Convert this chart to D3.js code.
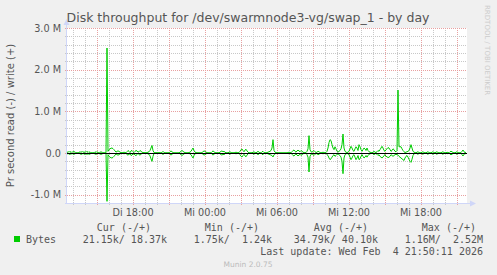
<!DOCTYPE html>
<html>
<head>
<meta charset="utf-8">
<script src="https://cdn.jsdelivr.net/npm/d3@7"></script>
<style>
body { margin: 0; background: #f0f0f0; }
text { font-family: "DejaVu Sans", sans-serif; }
.mono { font-family: "DejaVu Sans Mono", monospace; white-space: pre; }
</style>
</head>
<body>
<div id="chart"></div>
<script>
// 5 minute samples, values in k (bytes/s), from Tue 12:30 to Wed 21:50
var write = [
  30,10,40,15,35,10,40,20,30,3,2,3,2,35,10,40,15,30,10,40,
  15,35,10,30,3,2,2,3,30,10,35,2,3,30,10,30,3,2,4,5,
  2520,40,80,100,115,120,105,80,50,20,40,50,40,20,10,5,10,20,10,5,
  30,60,40,10,50,60,30,10,40,60,50,20,30,60,40,20,10,10,5,5,
  10,20,30,60,120,180,60,10,5,10,5,5,10,5,3,10,40,10,3,5,
  3,5,3,30,50,30,10,3,5,3,2,4,3,20,40,60,40,20,10,5,
  3,5,10,20,40,80,120,60,20,10,5,3,5,3,4,10,30,50,40,20,
  10,3,5,3,4,30,50,30,10,5,3,5,3,20,40,50,30,40,20,5,
  3,5,20,30,10,3,5,3,10,20,10,5,10,40,80,96,60,30,70,90,
  50,20,5,3,5,3,20,30,10,5,20,40,20,5,3,30,40,10,5,3,
  10,20,30,40,60,120,320,60,20,10,5,3,5,3,5,3,2,3,5,3,
  5,10,20,10,5,30,60,72,40,20,50,70,50,30,60,40,20,10,5,10,
  40,100,416,80,30,20,40,60,30,10,20,40,30,10,5,10,20,10,5,10,
  40,120,250,320,300,200,120,80,150,100,40,20,40,60,100,200,456,120,40,20,
  10,20,40,100,160,120,60,40,100,150,120,60,200,150,80,40,80,120,100,60,
  120,60,30,20,10,5,20,40,20,10,30,60,40,80,120,160,120,60,40,80,
  100,130,120,80,40,60,100,80,40,30,60,1510,150,150,150,100,60,30,10,20,
  30,40,60,120,200,120,40,20,10,5,20,30,10,5,3,20,30,10,5,3,
  20,30,10,5,3,20,30,10,5,20,30,10,5,3,5,20,30,10,5,3,
  20,10,5,30,40,30,10,5,3,20,30,10,5,3,10,40,72,30,10,18.37
];
var read = [
  25,10,35,20,30,10,35,15,30,2,3,2,3,30,15,35,10,35,15,30,
  20,30,15,35,2,3,3,2,35,15,30,3,2,35,15,35,2,3,5,4,
  1160,40,80,100,115,120,105,80,50,20,40,50,40,20,10,5,10,20,10,5,
  40,50,30,20,60,50,20,20,50,60,40,10,40,50,30,10,10,10,5,5,
  10,20,30,70,140,200,80,10,5,10,5,5,10,5,3,10,40,10,3,5,
  3,5,3,30,50,30,10,3,5,3,2,4,3,20,40,60,40,20,10,5,
  3,5,10,20,40,80,120,60,20,10,5,3,5,3,4,10,30,50,40,20,
  10,3,5,3,4,30,50,30,10,5,3,5,3,20,40,50,30,40,20,5,
  3,5,20,30,10,3,5,3,10,20,10,5,10,40,80,96,60,30,70,90,
  50,20,5,3,5,3,20,30,10,5,20,40,20,5,3,30,40,10,5,3,
  10,20,30,40,50,60,96,40,20,10,5,3,5,3,5,3,2,3,5,3,
  5,10,20,10,5,30,60,72,40,20,50,70,50,30,60,40,20,10,5,10,
  40,100,456,80,30,20,40,60,30,10,20,40,30,10,5,10,20,10,5,10,
  40,60,120,160,140,100,60,40,80,60,30,20,40,60,100,200,496,120,40,20,
  10,20,40,100,160,120,60,40,100,160,120,60,160,140,80,40,80,120,100,60,
  100,60,30,20,10,5,20,40,20,10,30,60,40,80,100,120,100,60,40,80,
  90,110,100,80,40,60,80,60,40,30,40,50,80,100,120,140,160,180,120,80,
  60,100,150,200,224,150,60,20,10,5,20,30,10,5,3,20,30,10,5,3,
  20,30,10,5,3,20,30,10,5,20,30,10,5,3,5,20,30,10,5,3,
  20,10,5,30,40,30,10,5,3,20,30,10,5,3,10,40,72,30,10,21.15
];
var yTicks = [-1e6, 0, 1e6, 2e6, 3e6];
var yTickLabels = ["-1.0 M", "0.0", "1.0 M", "2.0 M", "3.0 M"];
var xTicks = [Date.UTC(2026,1,3,18), Date.UTC(2026,1,4,0), Date.UTC(2026,1,4,6), Date.UTC(2026,1,4,12), Date.UTC(2026,1,4,18)];
var xTickLabels = ["Di 18:00", "Mi 00:00", "Mi 06:00", "Mi 12:00", "Mi 18:00"];
var legendHead = ["Cur (-/+)", "Min (-/+)", "Avg (-/+)", "Max (-/+)"];
var legendVals = ["21.15k/ 18.37k", "1.75k/  1.24k", "34.79k/ 40.10k", "1.16M/  2.52M"];

var W = 497, H = 275;
var pLeft = 67, pRight = 467, pTop = 28, pBottom = 203;
var start = Date.UTC(2026,1,3,12,30), end = Date.UTC(2026,1,4,21,50);
var step = 5 * 60 * 1000;

var svg = d3.select("#chart").append("svg")
    .attr("width", W)
    .attr("height", H);

svg.append("rect").attr("width", W).attr("height", H).attr("fill", "#f0f0f0");

var x = d3.scaleUtc().domain([start, end]).range([pLeft, pRight]);
var y = d3.scaleLinear().domain([-1.2e6, 3.0e6]).range([pBottom, pTop]);

svg.append("rect")
    .attr("x", pLeft).attr("y", pTop)
    .attr("width", pRight - pLeft).attr("height", pBottom - pTop)
    .attr("fill", "#ffffff");

//grid
var hours = d3.utcHour.range(new Date(start), new Date(end));
var grid = svg.append("g").attr("shape-rendering", "crispEdges");
grid.selectAll(".vmin")
  .data(hours)
  .enter().append("line")
    .attr("x1", function(d) { return Math.round(x(d)) + 0.5; })
    .attr("x2", function(d) { return Math.round(x(d)) + 0.5; })
    .attr("y1", pTop).attr("y2", function(d) { return d.getUTCHours() % 3 == 0 ? pBottom + 3 : pBottom + 2; })
    .attr("stroke", function(d) { return d.getUTCHours() % 3 == 0 ? "#e8a0a0" : "#c8c8c8"; })
    .attr("stroke-dasharray", "1,1");

var ySteps = d3.range(-6, 16).map(function(k) { return k * 2e5; });
grid.selectAll(".hmin")
  .data(ySteps)
  .enter().append("line")
    .attr("x1", pLeft - 2).attr("x2", pRight)
    .attr("y1", function(d) { return Math.round(y(d)) + 0.5; })
    .attr("y2", function(d) { return Math.round(y(d)) + 0.5; })
    .attr("stroke", function(d) { return Math.abs(d % 1e6) < 1 ? "#e8a0a0" : "#c8c8c8"; })
    .attr("stroke-dasharray", "1,1");

//axes
svg.append("line")
    .attr("x1", pLeft - 0.5).attr("x2", pLeft - 0.5)
    .attr("y1", pBottom + 1).attr("y2", pTop - 6)
    .attr("stroke", "#cfd6f8");
svg.append("path")
    .attr("d", "M" + (pLeft - 3.5) + "," + (pTop - 3) + "L" + (pLeft - 0.5) + "," + (pTop - 9) + "L" + (pLeft + 2.5) + "," + (pTop - 3) + "Z")
    .attr("fill", "#cfd6f8");
svg.append("line")
    .attr("x1", pLeft - 2).attr("x2", pRight + 6)
    .attr("y1", pBottom + 0.5).attr("y2", pBottom + 0.5)
    .attr("stroke", "#cfd6f8");
svg.append("path")
    .attr("d", "M" + (pRight + 3) + "," + (pBottom - 2.5) + "L" + (pRight + 9) + "," + (pBottom + 0.5) + "L" + (pRight + 3) + "," + (pBottom + 3.5) + "Z")
    .attr("fill", "#cfd6f8");

//data lines
var line = d3.line()
    .x(function(d, i) { return x(start + i * step); })
    .y(function(d) { return y(d); });

svg.append("path")
    .datum(write.map(function(v) { return v * 1000; }))
    .attr("d", line)
    .attr("fill", "none")
    .attr("stroke", "#00cc00")
    .attr("stroke-width", 1);
svg.append("path")
    .datum(read.map(function(v) { return -v * 1000; }))
    .attr("d", line)
    .attr("fill", "none")
    .attr("stroke", "#00cc00")
    .attr("stroke-width", 1);

svg.append("line")
    .attr("x1", pLeft).attr("x2", pRight)
    .attr("y1", Math.round(y(0)) + 0.5).attr("y2", Math.round(y(0)) + 0.5)
    .attr("stroke", "#000000")
    .attr("shape-rendering", "crispEdges");

//labels
svg.selectAll(".ylab")
  .data(yTicks)
  .enter().append("text")
    .attr("x", pLeft - 6)
    .attr("y", function(d) { return y(d) + 3.5; })
    .attr("text-anchor", "end")
    .attr("font-size", "9.7px")
    .attr("fill", "#555")
    .text(function(d, i) { return yTickLabels[i]; });

svg.selectAll(".xlab")
  .data(xTicks)
  .enter().append("text")
    .attr("x", function(d) { return x(d); })
    .attr("y", 216)
    .attr("text-anchor", "middle")
    .attr("font-size", "9.7px")
    .attr("fill", "#555")
    .text(function(d, i) { return xTickLabels[i]; });

svg.append("text")
    .attr("x", 248).attr("y", 22)
    .attr("text-anchor", "middle")
    .attr("font-size", "12.5px")
    .attr("fill", "#555")
    .text("Disk throughput for /dev/swarmnode3-vg/swap_1 - by day");

svg.append("text")
    .attr("transform", "translate(14," + ((pTop + pBottom) / 2) + ") rotate(-90)")
    .attr("text-anchor", "middle")
    .attr("font-size", "10px")
    .attr("fill", "#555")
    .text("Pr second read (-) / write (+)");

svg.append("text")
    .attr("transform", "translate(485,5) rotate(90)")
    .attr("font-size", "7px")
    .attr("fill", "#cccccc")
    .text("RRDTOOL / TOBI OETIKER");

//legend
var headX = [151, 259, 368, 476];
var valX = [167, 272, 378, 483];
svg.selectAll(".lh")
  .data(legendHead)
  .enter().append("text")
    .attr("class", "mono")
    .attr("x", function(d, i) { return headX[i]; })
    .attr("y", 231)
    .attr("text-anchor", "end")
    .attr("font-size", "10px")
    .attr("fill", "#555")
    .text(function(d) { return d; });

svg.append("rect")
    .attr("x", 14).attr("y", 236)
    .attr("width", 6).attr("height", 6)
    .attr("fill", "#00cc00");
svg.append("text")
    .attr("class", "mono")
    .attr("x", 26).attr("y", 243)
    .attr("font-size", "10px")
    .attr("fill", "#555")
    .text("Bytes");

svg.selectAll(".lv")
  .data(legendVals)
  .enter().append("text")
    .attr("class", "mono")
    .attr("x", function(d, i) { return valX[i]; })
    .attr("y", 243)
    .attr("text-anchor", "end")
    .attr("font-size", "10px")
    .attr("fill", "#555")
    .text(function(d) { return d; });

svg.append("text")
    .attr("class", "mono")
    .attr("x", 483).attr("y", 255)
    .attr("text-anchor", "end")
    .attr("font-size", "10px")
    .attr("fill", "#555")
    .text("Last update: Wed Feb  4 21:50:11 2026");

svg.append("text")
    .attr("x", 248).attr("y", 267)
    .attr("text-anchor", "middle")
    .attr("font-size", "7.5px")
    .attr("fill", "#bbbbbb")
    .text("Munin 2.0.75");
</script>
</body>
</html>
